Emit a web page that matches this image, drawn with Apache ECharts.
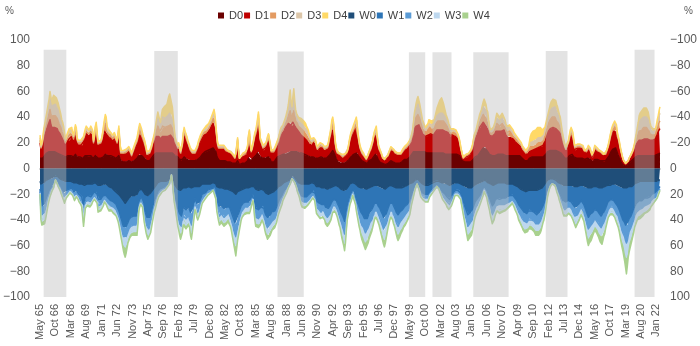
<!DOCTYPE html>
<html><head><meta charset="utf-8">
<script src="https://cdn.jsdelivr.net/npm/echarts@6/dist/echarts.min.js"></script>
<style>html,body{margin:0;padding:0;background:#fff}#c{width:700px;height:346px}</style>
</head><body><div id="c"></div>
<script>
// ---- categories (monthly, May 1965 .. May 2022) ----
const startYear = 1965, startMonthIndex = 4, monthCount = 685;
const monthNames = ['Jan','Feb','Mar','Apr','May','Jun','Jul','Aug','Sep','Oct','Nov','Dec'];
const categories = [];
for (let i = 0; i < monthCount; i++) {
  const k = startMonthIndex + i;
  categories.push(monthNames[k % 12] + ' ' + String((startYear + Math.floor(k / 12)) % 100).padStart(2, '0'));
}
const seriesNames = ['D0','D1','D2','D3','D4','W0','W1','W2','W3','W4'];
const yTicksLeft = [-100,-80,-60,-40,-20,0,20,40,60,80,100];

// ---- shaded periods (start month, end month, top value) ----
const bandStart = ['Sep 65','Nov 75','Mar 87','Apr 99','Jun 01','Mar 05','Nov 11','Jan 20'];
const bandEnd   = ['Oct 67','Jan 78','Aug 89','Oct 00','Mar 03','Jun 08','Nov 13','Nov 21'];
const bandTop   = [92.5, 91.5, 91, 90.5, 90.5, 90.5, 91.5, 92.5];

// ---- drought categories (% area) ----
const D0 = [
8,7,7,8,9,10,11,12,12,13,13,14,13,13,13,13,13,
13,12,12,12,11,11,11,10,10,10,10,9,9,10,10,10,10,
10,10,9,9,10,11,10,9,9,9,9,8,8,8,9,9,10,
10,10,10,9,9,10,10,9,8,9,10,10,9,8,8,8,8,
8,9,9,10,11,11,10,10,10,9,10,9,9,9,9,9,8,
8,9,10,8,6,5,5,5,5,5,5,6,6,6,6,5,5,
5,6,6,7,7,8,9,10,11,10,10,9,9,8,8,7,6,
6,6,6,7,8,9,10,10,11,12,12,12,12,12,12,12,12,
12,12,12,12,12,12,12,12,12,12,12,11,11,10,10,9,9,
8,7,6,6,7,8,9,8,8,7,7,7,6,6,6,6,6,
6,6,6,7,7,8,8,9,10,11,12,12,13,13,13,14,14,
14,15,15,16,16,16,15,13,10,8,7,6,6,6,6,6,6,
6,5,5,5,5,5,5,5,4,4,4,3,4,5,6,5,3,
3,4,4,4,4,4,5,5,6,8,9,7,6,7,8,8,9,
10,11,12,13,11,9,9,9,8,8,8,8,9,9,9,9,7,
5,5,5,5,6,7,8,9,9,10,10,10,10,11,11,11,11,
12,12,12,13,13,13,13,13,13,13,13,13,13,12,12,12,12,
12,11,11,11,10,10,10,10,9,9,9,9,9,9,9,8,8,
8,8,8,9,9,9,8,8,8,8,8,8,9,10,11,12,13,
14,13,11,9,7,6,5,5,5,4,4,4,4,4,5,5,5,
6,7,8,9,10,10,11,11,11,12,12,10,9,8,7,6,6,
5,5,4,4,4,5,6,6,7,7,8,9,10,11,11,9,7,
6,5,5,4,4,3,3,3,3,4,4,5,5,6,6,5,5,
5,5,4,4,4,4,4,5,5,6,6,7,7,7,7,8,8,
9,10,11,12,13,13,13,13,13,13,13,13,13,13,13,13,13,
12,12,12,12,12,12,12,12,12,12,12,12,12,12,12,12,12,
12,12,12,12,12,11,11,11,11,11,11,11,11,11,11,11,11,
11,11,11,10,10,8,7,6,5,5,5,5,5,5,5,5,5,
5,6,7,8,9,9,10,10,11,12,13,14,15,16,17,17,15,
14,13,12,11,10,10,10,10,10,10,11,11,11,11,11,11,11,
11,11,11,11,10,10,10,10,10,10,10,10,10,10,10,10,10,
10,10,10,9,9,8,7,7,6,6,6,6,7,8,9,9,9,
9,9,9,9,9,9,9,9,9,9,9,9,10,10,11,12,13,
13,14,14,14,14,14,14,14,14,14,14,13,13,13,12,11,10,
9,8,8,7,8,9,10,10,11,11,10,9,8,8,8,8,8,
8,8,8,8,8,7,7,7,7,8,8,8,7,6,6,5,6,
7,7,7,7,6,6,6,6,6,6,5,5,6,7,8,9,10,
11,13,14,15,16,16,16,14,12,10,9,7,5,4,3,3,3,
2,2,3,3,4,5,5,6,7,8,8,9,9,10,10,10,10,
10,10,10,10,10,10,10,10,10,10,10,10,10,10,10,10,10,
10,11,11,12,12];
const D1 = [
12,8,9,11,14,16,17,18,20,21,23,24,21,19,20,20,19,
19,19,19,17,17,16,15,14,13,11,10,9,10,11,12,13,12,
14,15,14,12,14,15,15,11,9,9,9,10,11,10,12,14,15,
17,17,16,16,17,17,18,16,11,13,18,20,14,10,9,10,11,
12,14,17,19,19,18,16,15,14,15,14,14,12,13,14,13,12,
11,14,17,11,5,5,6,6,6,6,6,6,6,7,6,6,4,
6,7,8,9,10,11,13,14,15,15,14,13,11,10,9,6,4,
3,4,5,5,6,8,9,11,12,13,14,14,13,12,11,12,13,
13,13,13,13,13,13,14,14,14,13,12,12,11,9,8,7,6,
8,7,5,5,10,15,17,16,14,14,11,10,9,7,6,5,5,
5,5,6,7,8,10,11,12,12,13,13,14,13,14,14,14,15,
16,16,18,18,19,20,19,15,12,9,8,9,9,9,9,9,9,
8,8,7,7,7,6,6,6,6,5,4,4,6,10,14,7,4,
4,4,5,6,6,6,6,6,9,14,16,10,6,7,9,12,14,
15,17,20,23,17,11,9,8,7,6,7,8,9,11,13,14,10,
7,7,7,7,7,8,8,8,10,12,14,16,17,17,18,20,21,
21,22,23,23,23,21,20,23,23,22,19,18,17,17,16,15,14,
13,14,13,13,13,12,12,11,10,10,9,9,10,11,12,10,8,
6,6,7,7,8,8,8,7,6,6,7,7,7,10,12,14,17,
17,15,11,7,6,5,6,5,5,5,5,4,4,5,5,5,6,
8,11,13,14,15,16,17,19,20,20,20,12,9,7,6,5,5,
5,3,3,2,3,4,5,6,7,8,10,13,14,15,16,13,10,
8,8,6,5,3,4,3,4,4,4,5,6,7,8,9,8,8,
7,6,7,6,6,5,5,5,6,6,7,7,7,8,8,8,9,
9,9,11,12,15,18,19,20,21,21,21,19,18,16,14,14,13,
13,13,13,14,15,15,15,14,14,14,15,16,17,18,18,18,18,
18,18,18,18,18,18,18,18,17,16,15,14,14,15,15,14,14,
14,13,12,11,9,7,5,3,2,2,3,4,4,4,5,5,6,
8,9,11,13,14,15,16,18,19,20,19,20,20,20,19,18,18,
18,19,17,15,15,15,15,16,16,17,18,19,19,18,17,17,18,
19,19,19,17,16,15,14,14,15,14,14,14,13,12,11,11,10,
9,8,8,8,7,6,6,6,6,5,5,5,5,5,5,5,5,
5,6,6,6,7,7,8,8,8,8,8,9,9,11,12,13,14,
16,16,17,18,18,18,18,18,17,16,16,16,15,14,13,11,10,
8,7,6,6,7,9,11,14,14,15,12,9,7,6,7,8,8,
8,8,7,7,7,6,5,5,5,5,7,7,6,5,3,3,6,
8,8,7,6,6,6,6,5,5,4,4,4,4,5,5,7,8,
11,11,13,13,13,14,14,14,11,11,9,8,7,5,4,2,1,
1,1,1,2,3,3,4,4,5,6,8,9,10,10,11,12,12,
12,12,13,13,13,13,13,13,13,12,12,12,12,12,12,12,13,
15,16,17,18,19];
const D2 = [
2,1,2,2,3,3,4,5,5,6,7,8,8,7,8,9,9,
9,9,8,8,7,7,6,5,5,5,3,2,2,2,3,3,3,
3,3,2,2,2,3,3,2,2,1,2,2,2,2,2,2,2,
2,3,2,2,2,2,2,2,1,2,2,2,2,1,1,1,1,
2,2,3,4,5,4,3,2,2,2,2,2,2,2,2,2,2,
1,2,2,1,1,1,1,1,2,1,2,2,2,2,2,1,1,
1,1,2,2,2,2,2,3,4,3,3,2,2,2,2,2,1,
1,1,1,1,2,2,2,2,3,4,5,7,6,5,5,7,8,
7,7,7,7,8,8,8,8,8,8,7,6,4,2,2,2,1,
2,1,1,1,1,2,2,2,2,2,2,1,1,1,1,1,1,
1,1,1,1,2,2,2,2,2,2,2,2,2,2,2,2,2,
2,3,3,3,4,4,3,2,2,1,1,1,1,1,1,1,1,
1,1,1,1,1,1,1,1,1,1,1,1,1,1,2,1,1,
1,1,1,1,1,1,1,1,1,2,2,1,1,1,1,2,2,
2,2,3,3,2,2,2,1,1,1,1,2,2,2,2,2,1,
1,1,1,1,1,1,2,2,2,2,2,2,2,2,2,3,3,
4,5,6,7,9,7,6,7,9,7,5,5,5,4,5,5,5,
5,5,5,5,5,4,4,4,3,2,2,2,2,2,2,2,1,
1,1,1,2,2,2,1,1,1,1,1,1,2,2,2,2,3,
4,3,2,2,1,1,1,1,1,1,1,1,1,1,1,1,1,
1,1,2,2,2,2,2,2,3,3,3,2,2,1,1,1,1,
1,1,1,1,1,1,1,1,1,1,2,2,2,2,2,2,1,
1,1,1,1,1,1,1,1,1,1,1,1,1,1,1,1,1,
1,1,1,1,1,1,1,1,1,1,1,1,1,1,2,2,2,
2,2,2,2,3,5,6,7,7,8,8,7,6,5,4,4,3,
3,3,3,4,4,5,4,4,4,4,4,5,6,6,7,7,7,
7,7,7,7,6,6,5,4,4,3,3,2,2,2,2,2,2,
2,2,2,2,1,1,1,1,1,1,1,1,1,1,1,1,1,
1,1,2,2,2,2,3,3,4,4,4,5,5,6,7,7,6,
5,5,4,3,2,2,2,2,3,4,4,5,5,5,5,4,5,
5,5,5,4,4,3,3,4,4,4,3,3,3,2,2,2,2,
2,2,2,2,2,2,2,1,1,1,1,1,2,2,3,3,3,
3,3,3,3,3,3,3,3,3,3,3,3,3,4,5,5,5,
6,6,7,7,8,8,8,8,8,7,7,6,5,5,4,3,2,
2,2,1,1,1,2,2,2,3,3,2,2,1,1,1,1,2,
2,1,1,1,1,1,1,1,1,1,1,1,1,1,1,1,1,
1,1,1,1,1,1,1,1,1,1,1,1,1,1,1,1,2,
2,2,2,2,2,3,3,2,2,2,2,1,1,1,1,1,1,
1,1,1,1,1,1,1,1,1,1,2,2,4,5,6,7,8,
8,8,8,9,9,9,9,8,8,7,5,4,4,4,3,3,3,
4,4,5,6,6];
const D3 = [
2,1,1,2,2,3,3,4,5,6,6,8,8,7,8,8,8,
9,8,8,8,7,6,6,5,4,4,3,2,2,2,2,3,3,
2,2,2,2,2,3,2,1,1,1,1,1,1,1,1,2,2,
2,2,2,2,2,2,2,2,1,1,2,2,2,1,1,1,1,
1,2,2,3,4,4,2,2,2,2,2,2,2,2,2,2,1,
1,2,2,1,1,1,1,1,1,1,1,1,1,1,1,1,1,
1,1,1,1,2,2,2,3,3,3,2,2,2,2,2,1,1,
1,1,1,1,1,1,2,2,3,4,5,6,6,5,4,6,7,
7,7,7,7,7,8,8,9,9,9,7,6,3,2,1,1,1,
1,1,1,1,1,2,2,2,2,1,1,1,1,1,1,1,1,
1,1,1,1,1,1,2,2,2,2,2,2,2,2,2,2,2,
2,2,2,3,3,3,3,2,1,1,1,1,1,1,1,1,1,
1,1,1,1,1,1,1,1,1,1,1,1,1,1,1,1,0,
1,1,1,1,1,1,1,1,1,1,2,1,1,1,1,1,2,
2,2,2,3,2,1,1,1,1,1,1,1,1,2,2,2,1,
1,1,1,1,1,1,1,1,2,2,2,2,2,2,2,2,3,
3,4,5,7,9,6,5,7,9,6,5,4,4,4,4,4,4,
4,4,4,4,4,4,3,3,3,2,2,1,1,1,1,1,1,
1,1,1,1,1,1,1,1,1,1,1,1,1,1,2,2,3,
3,2,2,1,1,1,1,1,1,1,1,1,1,1,1,1,1,
1,1,1,2,2,2,2,2,2,3,3,2,1,1,1,1,1,
1,1,1,1,1,1,1,1,1,1,1,1,2,2,2,1,1,
1,1,1,1,1,0,0,0,1,1,1,1,1,1,1,1,1,
1,1,1,1,1,1,1,1,1,1,1,1,1,1,1,1,1,
1,2,2,2,3,4,5,6,7,8,7,6,5,4,4,3,3,
2,2,3,3,4,4,4,4,3,3,4,4,4,5,5,5,6,
6,6,6,5,5,5,4,4,3,3,2,2,2,2,2,2,2,
2,2,1,1,1,1,1,1,1,1,1,1,1,1,1,1,1,
1,1,1,2,2,2,2,3,3,3,4,4,5,6,6,7,6,
5,4,3,2,2,2,2,2,2,3,4,4,5,4,4,4,4,
4,4,4,3,3,3,3,3,3,3,3,3,2,2,2,2,2,
2,2,1,2,1,1,1,1,1,1,1,1,2,2,3,3,4,
4,4,4,4,4,4,4,4,4,4,4,4,4,4,4,4,5,
5,6,7,7,7,8,8,8,8,7,6,6,5,4,3,3,2,
2,1,1,1,1,1,2,2,2,2,2,1,1,1,1,1,1,
1,1,1,1,1,1,1,1,1,1,1,1,1,1,1,1,1,
1,1,1,1,1,1,1,1,1,1,1,1,1,1,1,1,1,
1,2,2,2,2,2,3,2,2,1,1,1,1,1,0,0,0,
0,0,0,0,0,0,1,1,1,1,1,2,3,4,5,7,7,
8,8,8,8,9,8,8,8,7,6,5,4,3,3,3,3,3,
3,4,4,5,6];
const D4 = [
2,1,1,1,2,2,3,3,4,4,5,6,6,6,6,7,7,
7,7,7,6,6,5,4,4,4,3,2,1,1,2,2,2,2,
2,2,1,1,2,2,2,1,1,1,1,1,1,1,1,1,2,
2,2,2,1,1,2,2,1,1,1,1,2,1,1,1,1,1,
1,1,2,2,3,3,2,2,2,1,2,1,1,1,1,1,1,
1,1,2,1,1,1,1,1,1,1,1,1,1,1,1,1,1,
1,1,1,1,1,1,2,2,2,2,2,2,1,1,1,1,1,
1,1,1,1,1,1,1,2,2,3,4,5,4,4,4,5,6,
8,9,10,10,10,12,14,15,16,15,10,5,3,2,1,1,1,
1,1,1,1,1,1,2,1,1,1,1,1,1,1,1,1,1,
1,1,1,1,1,1,1,1,1,1,1,1,2,2,2,2,2,
2,2,2,2,2,3,2,2,1,1,1,1,1,1,1,1,1,
1,1,1,0,0,0,0,0,0,0,0,0,0,1,1,0,0,
0,0,0,0,0,0,0,1,1,1,1,1,0,1,1,1,1,
1,2,2,2,2,1,1,1,1,1,1,1,1,1,1,1,1,
0,0,1,1,1,1,1,1,1,1,2,2,2,2,2,2,2,
3,3,4,6,7,5,4,6,8,5,4,3,3,3,3,3,4,
4,4,4,3,3,3,3,2,2,2,1,1,1,1,1,1,1,
1,1,1,1,1,1,1,1,1,1,1,1,1,1,1,2,2,
2,2,1,1,1,1,0,0,0,0,0,0,0,0,0,0,0,
1,1,1,1,1,2,2,2,2,2,2,1,1,1,1,1,0,
0,0,0,0,0,0,0,1,1,1,1,1,1,1,2,1,1,
1,0,0,0,0,0,0,0,0,0,0,0,1,1,1,1,0,
0,0,0,0,0,0,0,0,0,1,1,1,1,1,1,1,1,
1,1,1,2,2,3,4,5,6,6,6,5,4,4,3,2,2,
2,2,2,2,3,3,3,3,3,3,3,4,5,6,7,9,10,
11,12,11,9,7,5,4,3,3,2,2,2,1,1,1,1,1,
1,1,1,1,1,1,0,0,0,0,0,0,0,0,0,0,1,
1,1,1,1,1,2,2,2,2,3,3,3,4,4,5,6,5,
4,3,2,2,1,2,2,2,2,2,3,4,4,4,3,3,3,
4,4,3,3,2,2,2,2,2,2,2,2,2,2,2,1,1,
1,1,1,1,1,1,1,1,1,1,1,1,1,4,5,7,7,
8,8,8,8,8,9,9,9,8,7,6,5,4,3,3,4,4,
4,5,5,6,6,6,7,7,6,6,5,4,4,4,3,2,2,
1,1,1,1,1,1,1,2,2,2,2,1,1,1,1,1,1,
1,1,1,1,1,1,0,0,1,1,1,1,1,0,0,0,0,
1,1,1,1,1,0,0,0,0,0,0,0,0,0,1,1,1,
1,1,1,2,2,2,2,2,1,1,1,1,0,0,0,0,0,
0,0,0,0,0,0,0,0,0,1,1,2,2,3,4,5,6,
6,7,7,7,7,7,7,7,6,5,4,3,3,2,2,2,2,
2,3,4,4,5];

// ---- wet categories (% area, plotted below zero) ----
const W0 = [
-10,-12,-12,-12,-11,-10,-10,-9,-9,-8,-8,-8,-8,-7,-7,-7,-6,
-5,-6,-6,-7,-7,-8,-8,-9,-9,-10,-10,-10,-10,-10,-10,-10,-10,
-10,-10,-10,-11,-11,-11,-11,-11,-11,-12,-12,-12,-12,-12,-13,-13,-12,
-12,-12,-12,-12,-12,-12,-12,-12,-11,-11,-11,-11,-12,-13,-13,-13,-13,
-13,-13,-12,-12,-12,-12,-13,-13,-14,-14,-15,-15,-16,-16,-17,-17,-18,
-19,-19,-20,-21,-22,-23,-24,-25,-26,-27,-26,-25,-24,-23,-22,-22,-21,
-21,-21,-21,-21,-21,-20,-19,-17,-16,-16,-16,-17,-18,-19,-20,-20,-21,
-21,-21,-20,-19,-18,-17,-16,-15,-14,-13,-12,-11,-11,-10,-10,-10,-10,
-10,-10,-10,-10,-9,-9,-9,-8,-7,-4,-7,-10,-12,-13,-14,-15,-16,
-16,-17,-17,-17,-16,-15,-15,-15,-15,-15,-14,-14,-14,-15,-15,-15,-14,
-14,-13,-13,-14,-14,-14,-14,-13,-13,-12,-12,-12,-12,-12,-12,-12,-12,
-12,-12,-11,-11,-11,-11,-11,-12,-14,-14,-15,-15,-15,-15,-15,-15,-16,
-16,-16,-16,-16,-16,-16,-17,-17,-18,-18,-19,-19,-20,-19,-18,-18,-17,
-17,-16,-16,-16,-15,-15,-15,-15,-15,-15,-15,-14,-14,-13,-13,-14,-15,
-16,-17,-17,-17,-17,-16,-16,-16,-16,-17,-18,-19,-19,-20,-20,-20,-19,
-19,-18,-18,-18,-18,-17,-16,-15,-14,-14,-13,-13,-12,-12,-11,-11,-11,
-10,-10,-9,-9,-8,-7,-6,-5,-6,-7,-8,-9,-10,-11,-11,-12,-12,
-12,-12,-12,-12,-12,-12,-12,-12,-12,-11,-11,-11,-11,-11,-12,-13,-14,
-14,-14,-14,-14,-15,-15,-15,-15,-15,-16,-16,-16,-16,-16,-15,-15,-14,
-14,-13,-13,-13,-13,-14,-14,-15,-15,-16,-16,-17,-17,-18,-17,-16,-15,
-14,-13,-12,-12,-11,-11,-11,-11,-12,-13,-13,-14,-14,-14,-15,-15,-15,
-15,-16,-16,-16,-16,-15,-15,-15,-15,-14,-14,-14,-13,-13,-13,-13,-14,
-14,-14,-15,-15,-15,-16,-16,-16,-15,-15,-14,-14,-13,-13,-13,-13,-14,
-14,-14,-15,-15,-15,-15,-15,-15,-15,-14,-14,-14,-14,-14,-13,-13,-13,
-12,-12,-11,-11,-10,-10,-9,-9,-8,-8,-9,-10,-11,-11,-12,-12,-12,
-13,-13,-13,-13,-12,-12,-12,-11,-11,-11,-10,-10,-10,-9,-9,-10,-10,
-10,-11,-11,-11,-11,-12,-12,-12,-12,-12,-13,-13,-12,-12,-12,-12,-11,
-11,-11,-11,-11,-11,-12,-12,-13,-13,-14,-14,-14,-15,-15,-15,-15,-15,
-15,-14,-14,-13,-13,-12,-12,-12,-11,-11,-11,-10,-10,-10,-9,-9,-9,
-10,-11,-11,-12,-12,-13,-13,-13,-12,-12,-12,-11,-11,-11,-11,-11,-11,
-11,-11,-11,-12,-12,-12,-12,-12,-12,-12,-12,-12,-12,-13,-13,-13,-14,
-14,-15,-15,-16,-16,-17,-17,-18,-18,-18,-18,-18,-17,-17,-17,-17,-17,
-17,-17,-17,-17,-17,-17,-16,-16,-16,-15,-15,-14,-13,-12,-11,-10,-9,
-9,-8,-8,-8,-8,-8,-8,-8,-9,-9,-10,-11,-11,-12,-12,-13,-13,
-13,-13,-13,-13,-13,-13,-13,-13,-13,-13,-14,-14,-14,-14,-14,-14,-14,
-13,-13,-13,-13,-13,-14,-14,-14,-15,-15,-15,-15,-15,-15,-15,-15,-14,
-14,-14,-14,-14,-14,-15,-15,-15,-15,-15,-14,-14,-14,-13,-13,-13,-13,
-13,-12,-12,-12,-12,-12,-12,-13,-13,-13,-14,-14,-14,-15,-15,-15,-15,
-15,-15,-15,-15,-14,-14,-14,-14,-13,-13,-12,-12,-11,-11,-10,-10,-10,
-10,-10,-10,-10,-10,-10,-10,-10,-10,-10,-10,-10,-10,-10,-10,-10,-10,
-10,-10,-9,-9,-9];
const W1 = [
-6,-15,-17,-17,-18,-17,-16,-14,-12,-11,-9,-8,-7,-6,-6,-5,-4,
-3,-3,-4,-4,-5,-5,-6,-7,-8,-8,-9,-8,-7,-7,-6,-6,-5,
-5,-5,-6,-7,-8,-7,-6,-6,-7,-8,-8,-9,-10,-10,-17,-13,-10,
-10,-9,-9,-9,-10,-10,-9,-8,-8,-7,-7,-7,-8,-11,-11,-11,-11,
-11,-10,-9,-8,-8,-9,-9,-10,-10,-10,-10,-10,-10,-10,-10,-10,-10,
-11,-12,-13,-14,-16,-17,-19,-20,-20,-19,-19,-19,-18,-17,-17,-16,-16,
-16,-16,-16,-16,-16,-17,-13,-9,-8,-7,-6,-7,-10,-12,-14,-16,-17,
-18,-18,-18,-16,-15,-13,-12,-10,-10,-9,-8,-7,-6,-6,-6,-5,-5,
-4,-4,-4,-4,-4,-3,-3,-3,-2,-1,-2,-5,-8,-9,-11,-13,-15,
-17,-18,-19,-20,-18,-15,-15,-16,-17,-17,-17,-16,-17,-19,-20,-18,-16,
-13,-10,-11,-13,-14,-13,-12,-11,-9,-8,-8,-7,-7,-6,-6,-5,-5,
-5,-4,-4,-4,-4,-4,-4,-7,-10,-12,-14,-15,-15,-14,-14,-15,-15,
-16,-15,-14,-13,-13,-14,-15,-16,-18,-19,-21,-23,-23,-22,-19,-18,-16,
-14,-13,-12,-11,-11,-11,-11,-11,-11,-11,-11,-10,-9,-8,-7,-10,-13,
-15,-15,-15,-15,-15,-15,-14,-13,-13,-14,-16,-17,-18,-18,-19,-18,-17,
-16,-16,-16,-15,-15,-15,-14,-13,-12,-11,-10,-9,-9,-7,-7,-6,-6,
-5,-4,-4,-3,-3,-2,-2,-2,-2,-3,-3,-4,-5,-5,-6,-7,-9,
-10,-10,-10,-10,-10,-10,-9,-9,-8,-8,-8,-7,-7,-6,-7,-9,-11,
-11,-12,-13,-13,-13,-13,-12,-12,-13,-14,-15,-15,-15,-14,-14,-13,-12,
-11,-11,-11,-11,-12,-13,-14,-15,-16,-18,-19,-20,-22,-23,-21,-17,-13,
-12,-10,-9,-8,-7,-6,-5,-6,-9,-11,-13,-14,-16,-18,-19,-20,-21,
-22,-23,-24,-24,-23,-22,-20,-19,-19,-18,-17,-15,-14,-13,-14,-14,-15,
-16,-17,-18,-19,-21,-22,-23,-21,-20,-18,-17,-15,-14,-13,-13,-14,-15,
-16,-18,-19,-20,-21,-20,-19,-19,-18,-18,-17,-16,-16,-15,-15,-14,-13,
-13,-11,-9,-8,-7,-5,-4,-3,-3,-3,-4,-5,-6,-7,-7,-7,-7,
-7,-8,-8,-7,-7,-6,-5,-5,-5,-4,-4,-4,-3,-3,-3,-4,-5,
-6,-6,-7,-8,-8,-8,-9,-10,-10,-11,-11,-10,-9,-8,-7,-6,-6,
-5,-5,-6,-6,-6,-7,-9,-10,-12,-14,-16,-18,-19,-21,-20,-20,-19,
-19,-18,-16,-15,-13,-13,-12,-11,-11,-10,-9,-8,-7,-6,-5,-5,-6,
-7,-9,-10,-11,-13,-14,-16,-15,-15,-13,-12,-12,-12,-12,-13,-13,-12,
-12,-12,-12,-11,-11,-11,-10,-10,-10,-9,-9,-8,-9,-9,-10,-11,-11,
-12,-13,-14,-14,-15,-15,-16,-16,-17,-17,-17,-16,-16,-15,-15,-16,-16,
-16,-17,-17,-18,-19,-19,-19,-18,-18,-17,-16,-15,-14,-13,-11,-9,-7,
-6,-5,-4,-3,-3,-3,-3,-3,-4,-5,-6,-6,-8,-8,-10,-10,-12,
-13,-13,-13,-13,-12,-12,-12,-12,-13,-13,-14,-15,-16,-17,-16,-15,-15,
-14,-13,-12,-12,-13,-14,-16,-18,-19,-21,-23,-22,-21,-21,-20,-19,-19,
-18,-18,-19,-19,-20,-20,-21,-22,-22,-21,-20,-19,-17,-16,-15,-13,-13,
-12,-12,-12,-13,-13,-14,-15,-15,-16,-17,-18,-20,-22,-23,-25,-26,-27,
-29,-30,-29,-26,-25,-24,-23,-21,-20,-19,-18,-17,-16,-15,-16,-15,-15,
-15,-15,-14,-14,-13,-13,-13,-13,-12,-12,-12,-11,-10,-10,-9,-9,-9,
-8,-7,-7,-6,-5];
const W2 = [
-2,-6,-7,-7,-7,-7,-7,-6,-5,-4,-4,-3,-3,-3,-2,-2,-1,
-1,-1,-1,-2,-2,-2,-3,-3,-3,-4,-4,-4,-3,-3,-3,-2,-2,
-2,-2,-3,-3,-3,-3,-3,-3,-3,-3,-4,-4,-4,-4,-7,-6,-4,
-4,-4,-4,-4,-4,-4,-4,-3,-3,-3,-3,-3,-4,-5,-5,-4,-4,
-4,-4,-4,-3,-3,-4,-4,-4,-4,-4,-4,-4,-4,-4,-4,-4,-4,
-4,-5,-5,-6,-7,-7,-8,-8,-8,-8,-8,-8,-7,-7,-7,-7,-7,
-7,-7,-7,-7,-7,-7,-6,-4,-3,-3,-3,-3,-4,-5,-6,-7,-7,
-7,-8,-7,-7,-6,-6,-5,-4,-4,-4,-3,-3,-3,-3,-2,-2,-2,
-2,-2,-2,-1,-1,-1,-1,-1,0,0,-1,-2,-3,-4,-5,-6,-7,
-7,-8,-8,-8,-7,-7,-6,-7,-7,-7,-7,-7,-7,-8,-9,-8,-7,
-5,-4,-5,-5,-6,-6,-5,-4,-4,-4,-3,-3,-3,-3,-2,-2,-2,
-2,-2,-2,-2,-1,-1,-2,-3,-4,-5,-6,-7,-6,-6,-6,-6,-7,
-7,-7,-6,-6,-5,-6,-6,-7,-7,-8,-9,-9,-10,-9,-8,-7,-7,
-6,-5,-5,-5,-5,-4,-4,-4,-4,-4,-4,-4,-4,-3,-3,-4,-6,
-7,-7,-7,-7,-7,-6,-6,-5,-5,-6,-7,-7,-7,-8,-8,-7,-7,
-7,-7,-7,-7,-6,-6,-6,-5,-5,-5,-4,-4,-4,-3,-3,-3,-2,
-2,-2,-1,-1,-1,-1,0,0,-1,-1,-1,-1,-2,-2,-3,-3,-4,
-4,-4,-4,-4,-4,-4,-4,-4,-4,-4,-3,-3,-3,-3,-3,-4,-5,
-5,-5,-5,-6,-6,-5,-5,-5,-6,-6,-6,-7,-6,-6,-6,-6,-5,
-4,-4,-4,-5,-5,-5,-6,-7,-7,-7,-8,-9,-9,-10,-9,-7,-6,
-5,-4,-4,-3,-3,-2,-2,-3,-4,-4,-5,-6,-7,-7,-8,-9,-9,
-9,-9,-10,-10,-10,-9,-9,-8,-8,-8,-7,-7,-6,-6,-6,-6,-6,
-7,-7,-8,-8,-9,-9,-9,-9,-8,-8,-7,-7,-6,-6,-6,-6,-7,
-7,-7,-8,-8,-9,-9,-8,-8,-8,-7,-7,-7,-7,-7,-6,-6,-6,
-5,-4,-4,-3,-3,-2,-2,-1,-1,-1,-2,-2,-3,-3,-3,-3,-3,
-3,-3,-3,-3,-3,-2,-2,-2,-2,-2,-2,-1,-1,-1,-1,-1,-2,
-2,-3,-3,-3,-4,-4,-4,-4,-4,-4,-4,-4,-4,-4,-3,-3,-2,
-2,-2,-2,-2,-3,-3,-4,-4,-5,-6,-7,-7,-8,-9,-9,-8,-8,
-8,-8,-7,-6,-6,-5,-5,-5,-4,-4,-4,-4,-3,-3,-2,-2,-2,
-3,-4,-4,-5,-6,-6,-7,-7,-6,-6,-5,-5,-5,-5,-5,-5,-5,
-5,-5,-5,-5,-5,-4,-4,-4,-4,-4,-4,-4,-4,-4,-4,-4,-5,
-5,-6,-6,-6,-6,-7,-7,-7,-7,-7,-7,-7,-7,-7,-7,-7,-7,
-7,-7,-7,-8,-8,-8,-8,-8,-7,-7,-7,-6,-6,-5,-5,-4,-3,
-2,-2,-1,-1,-1,-1,-1,-1,-1,-2,-2,-3,-3,-4,-4,-4,-5,
-5,-6,-6,-5,-5,-5,-5,-5,-5,-6,-6,-6,-7,-7,-7,-7,-6,
-6,-6,-5,-5,-5,-6,-7,-8,-8,-9,-9,-9,-9,-9,-8,-8,-8,
-7,-8,-8,-8,-8,-9,-9,-9,-9,-9,-8,-8,-7,-7,-6,-6,-5,
-5,-5,-5,-5,-6,-6,-6,-7,-7,-7,-8,-8,-9,-10,-10,-10,-11,
-12,-13,-12,-11,-10,-10,-9,-9,-9,-8,-7,-7,-7,-7,-7,-7,-7,
-6,-6,-6,-6,-6,-6,-5,-5,-5,-5,-5,-4,-4,-4,-4,-4,-4,
-4,-3,-3,-2,-2];
const W3 = [
-1,-4,-5,-5,-5,-5,-4,-4,-4,-3,-2,-2,-1,-1,-1,-1,-1,
0,0,-1,-1,-1,-1,-1,-1,-2,-2,-2,-2,-2,-1,-1,-1,-1,
-1,-1,-1,-1,-2,-2,-1,-1,-2,-2,-2,-2,-2,-3,-5,-4,-3,
-2,-2,-2,-2,-2,-2,-2,-2,-2,-2,-2,-2,-2,-3,-3,-3,-3,
-3,-3,-2,-2,-2,-2,-2,-2,-3,-3,-2,-2,-2,-3,-3,-3,-3,
-3,-3,-4,-4,-4,-5,-5,-6,-6,-7,-6,-6,-5,-5,-5,-5,-5,
-5,-5,-5,-5,-5,-5,-4,-2,-2,-1,-1,-2,-2,-4,-4,-4,-5,
-5,-5,-5,-5,-4,-4,-3,-3,-2,-2,-2,-2,-1,-1,-1,-1,-1,
-1,-1,-1,-1,-1,-1,0,0,0,0,0,-1,-2,-2,-3,-4,-4,
-5,-5,-6,-6,-5,-4,-4,-4,-5,-5,-5,-4,-5,-6,-6,-5,-4,
-4,-3,-3,-4,-4,-4,-3,-3,-2,-2,-2,-2,-1,-1,-1,-1,-1,
-1,-1,-1,-1,-1,-1,-1,-1,-3,-4,-4,-4,-4,-4,-4,-4,-4,
-4,-4,-4,-4,-4,-4,-4,-5,-5,-6,-6,-7,-7,-6,-6,-5,-5,
-4,-4,-3,-3,-3,-3,-3,-3,-3,-3,-3,-3,-2,-2,-1,-2,-4,
-4,-4,-4,-4,-4,-4,-4,-4,-4,-4,-4,-5,-5,-5,-5,-5,-5,
-5,-4,-4,-4,-4,-4,-4,-4,-3,-3,-3,-2,-2,-2,-2,-1,-1,
-1,-1,-1,-1,0,0,0,0,0,0,0,-1,-1,-1,-1,-2,-2,
-2,-2,-3,-3,-3,-2,-2,-2,-2,-2,-2,-2,-1,-1,-2,-2,-3,
-3,-4,-4,-4,-4,-4,-4,-4,-4,-4,-4,-4,-4,-4,-4,-4,-4,
-3,-3,-3,-3,-3,-4,-4,-4,-5,-5,-6,-6,-6,-7,-6,-5,-4,
-3,-3,-2,-2,-2,-1,-1,-1,-2,-3,-4,-4,-5,-5,-6,-6,-6,
-7,-7,-7,-7,-7,-6,-6,-6,-5,-5,-5,-4,-4,-4,-4,-4,-4,
-4,-5,-5,-6,-6,-6,-7,-6,-6,-5,-5,-4,-4,-4,-4,-4,-4,
-5,-5,-5,-6,-6,-6,-6,-5,-5,-5,-5,-5,-4,-4,-4,-4,-4,
-4,-3,-2,-2,-1,-1,-1,-1,0,-1,-1,-1,-1,-1,-1,-2,-2,
-2,-2,-2,-2,-1,-1,-1,-1,-1,-1,-1,-1,-1,-1,-1,-1,-1,
-1,-1,-2,-2,-2,-2,-2,-2,-3,-3,-3,-2,-2,-2,-2,-1,-1,
-1,-1,-1,-1,-1,-1,-2,-3,-4,-4,-4,-5,-6,-6,-6,-6,-6,
-6,-5,-5,-4,-4,-4,-3,-3,-3,-2,-2,-2,-2,-1,-1,-1,-1,
-2,-2,-3,-3,-4,-4,-4,-4,-4,-4,-4,-3,-3,-4,-4,-4,-4,
-4,-3,-3,-3,-3,-3,-3,-2,-2,-2,-2,-2,-2,-2,-3,-3,-3,
-4,-4,-4,-4,-4,-4,-5,-5,-5,-5,-5,-5,-4,-4,-4,-4,-5,
-5,-5,-5,-5,-5,-5,-5,-5,-5,-5,-4,-4,-4,-4,-3,-2,-2,
-1,-1,-1,-1,0,0,0,-1,-1,-1,-1,-1,-2,-2,-2,-3,-3,
-4,-4,-4,-4,-4,-3,-3,-4,-4,-4,-4,-4,-4,-5,-5,-4,-4,
-4,-4,-4,-3,-4,-4,-5,-5,-6,-6,-7,-6,-6,-6,-6,-6,-5,
-5,-5,-5,-6,-6,-6,-6,-6,-7,-6,-6,-6,-5,-5,-4,-4,-4,
-4,-4,-4,-4,-4,-4,-4,-4,-5,-5,-5,-6,-6,-7,-7,-8,-9,
-10,-11,-10,-8,-8,-7,-7,-6,-6,-6,-5,-5,-5,-4,-4,-4,-4,
-4,-4,-4,-4,-4,-4,-4,-4,-4,-4,-3,-3,-3,-2,-2,-2,-2,
-2,-2,-1,-1,-1];
const W4 = [
-1,-3,-3,-4,-4,-4,-3,-3,-2,-2,-2,-1,-1,-1,-1,0,0,
0,0,0,0,0,-1,-1,-1,-1,-1,-2,-1,-1,-1,-1,-1,-1,
0,-1,-1,-1,-1,-1,-1,-1,-1,-1,-1,-1,-2,-2,-3,-2,-2,
-2,-2,-1,-2,-2,-2,-1,-1,-1,-1,-1,-1,-1,-2,-2,-2,-2,
-2,-2,-2,-1,-1,-1,-2,-2,-2,-2,-2,-2,-2,-2,-2,-2,-2,
-2,-2,-2,-3,-3,-4,-4,-5,-7,-8,-7,-4,-4,-4,-3,-3,-3,
-3,-3,-3,-3,-3,-3,-2,-1,-1,-1,-1,-1,-2,-2,-2,-3,-3,
-4,-4,-4,-3,-3,-2,-2,-2,-2,-1,-1,-1,-1,-1,-1,-1,0,
0,0,0,0,0,0,0,0,0,0,0,0,-1,-2,-2,-2,-3,
-3,-4,-5,-5,-4,-3,-3,-3,-3,-4,-3,-3,-3,-4,-5,-4,-3,
-2,-2,-2,-2,-2,-2,-2,-2,-2,-1,-1,-1,-1,-1,-1,-1,0,
0,0,0,0,0,0,0,-1,-2,-2,-2,-3,-3,-3,-3,-3,-3,
-3,-3,-3,-2,-2,-2,-3,-3,-4,-5,-5,-6,-8,-6,-5,-4,-3,
-3,-2,-2,-2,-2,-2,-2,-2,-2,-2,-2,-2,-1,-1,-1,-2,-2,
-3,-3,-3,-3,-3,-3,-2,-2,-2,-3,-3,-3,-4,-4,-4,-4,-4,
-3,-3,-3,-3,-3,-3,-2,-2,-2,-2,-2,-2,-1,-1,-1,-1,-1,
-1,0,0,0,0,0,0,0,0,0,0,0,0,-1,-1,-1,-1,
-2,-2,-2,-2,-2,-2,-2,-1,-1,-1,-1,-1,-1,-1,-1,-2,-2,
-2,-2,-2,-2,-2,-2,-2,-2,-2,-3,-3,-3,-3,-3,-3,-2,-2,
-2,-2,-2,-2,-2,-2,-3,-3,-3,-4,-5,-5,-6,-6,-5,-3,-2,
-2,-2,-1,-1,-1,-1,-1,-1,-1,-2,-2,-3,-3,-4,-4,-5,-6,
-6,-6,-6,-7,-6,-6,-5,-5,-4,-4,-3,-3,-3,-2,-2,-3,-3,
-3,-4,-4,-5,-5,-6,-6,-6,-5,-4,-3,-3,-3,-2,-2,-3,-3,
-3,-4,-4,-5,-5,-5,-5,-4,-4,-4,-3,-3,-3,-3,-3,-3,-2,
-2,-2,-2,-1,-1,-1,0,0,0,0,0,-1,-1,-1,-1,-1,-1,
-1,-1,-1,-1,-1,-1,-1,-1,0,0,0,0,0,0,0,0,0,
-1,-1,-1,-1,-1,-1,-1,-2,-2,-2,-2,-2,-2,-1,-1,-1,-1,
-1,-1,-1,-1,-1,-1,-1,-2,-2,-2,-3,-4,-4,-5,-5,-5,-5,
-4,-4,-3,-3,-2,-2,-2,-2,-2,-2,-1,-1,-1,-1,-1,0,-1,
-1,-1,-2,-2,-2,-3,-3,-3,-3,-2,-2,-2,-2,-2,-2,-2,-2,
-2,-2,-2,-2,-2,-2,-2,-2,-2,-2,-1,-1,-1,-2,-2,-2,-2,
-2,-2,-2,-3,-3,-3,-3,-3,-3,-4,-4,-3,-3,-3,-3,-3,-3,
-3,-3,-4,-4,-4,-4,-4,-4,-4,-4,-3,-3,-3,-2,-2,-2,-1,
-1,0,0,0,0,0,0,0,0,-1,-1,-1,-1,-1,-2,-2,-2,
-2,-2,-2,-2,-2,-2,-2,-2,-2,-2,-2,-3,-3,-3,-3,-3,-3,
-3,-2,-2,-2,-2,-3,-3,-4,-5,-6,-6,-6,-6,-5,-5,-4,-4,
-4,-4,-4,-4,-5,-5,-6,-6,-6,-5,-5,-4,-4,-3,-3,-2,-2,
-2,-2,-2,-2,-2,-2,-3,-3,-3,-4,-4,-5,-6,-6,-7,-9,-10,
-11,-13,-10,-9,-8,-7,-6,-6,-5,-4,-4,-3,-3,-3,-3,-3,-3,
-3,-3,-3,-2,-2,-2,-2,-2,-2,-2,-2,-2,-2,-2,-2,-1,-1,
-1,-1,-1,-1,0];

const seriesData = [D0, D1, D2, D3, D4, W0, W1, W2, W3, W4];
const seriesColors = ['#6b0000','#c00000','#e39b62','#dcc6a9','#ffd966','#1f4e79','#2e75b6','#5b9bd5','#bdd7ee','#a9d18e'];

const FONT = "'Liberation Sans', Arial, sans-serif";
const minusFmt = v => String(v).replace('-', '\u2212');

const bandAreas = bandStart.map((s, i) => [
  { xAxis: s, yAxis: -100 },
  { xAxis: bandEnd[i], yAxis: bandTop[i] }
]);

const series = seriesNames.map((name, i) => {
  const s = {
    name, type: 'line', stack: i < 5 ? 'D' : 'W',
    data: seriesData[i], xAxisIndex: 0, yAxisIndex: 0,
    symbol: 'none', showSymbol: false, smooth: false,
    lineStyle: { width: 1.5, color: seriesColors[i], join: 'round' }, itemStyle: { color: seriesColors[i] },
    areaStyle: { color: seriesColors[i], opacity: 1 },
    emphasis: { disabled: true }, silent: true
  };
  if (i === seriesNames.length - 1) {
    s.markArea = {
      silent: true, z: 10,
      itemStyle: { color: 'rgba(188,188,188,0.42)', borderWidth: 0 },
      label: { show: false },
      data: bandAreas
    };
  }
  return s;
});

const chart = echarts.init(document.getElementById('c'), null, { renderer: 'canvas' });
chart.setOption({
  animation: false,
  backgroundColor: '#ffffff',
  textStyle: { fontFamily: FONT },
  graphic: [
    { type: 'text', left: 5, top: 6, style: { text: '%', fontSize: 10, fill: '#595959', fontFamily: FONT } },
    { type: 'text', left: 684, top: 6, style: { text: '%', fontSize: 10, fill: '#595959', fontFamily: FONT } }
  ],
  legend: {
    data: seriesNames, top: 10, left: 218, padding: 0, icon: 'rect',
    itemWidth: 6, itemHeight: 6, itemGap: 1,
    textStyle: { fontSize: 11, color: '#404040', fontFamily: FONT },
    selectedMode: false
  },
  grid: { left: 37, right: 38, top: 40, bottom: 49, containLabel: false },
  xAxis: [
    {
      type: 'category', data: categories, boundaryGap: false, position: 'bottom',
      axisLine: { show: false, onZero: false }, axisTick: { show: false },
      axisLabel: { interval: 16, rotate: 90, fontSize: 11, color: '#595959', margin: 7, fontFamily: FONT },
      splitLine: { show: false }
    },
    {
      type: 'category', data: categories, boundaryGap: false, position: 'bottom',
      axisLine: { show: true, onZero: true, lineStyle: { color: '#d0d0d0', width: 2 } },
      axisTick: { show: true, interval: 16, length: 3, lineStyle: { color: '#e8e8e8', width: 1 } },
      axisLabel: { show: false }, splitLine: { show: false }
    }
  ],
  yAxis: [
    {
      type: 'value', min: yTicksLeft[0], max: yTicksLeft[yTicksLeft.length - 1], interval: 20, position: 'left',
      axisLine: { show: false }, axisTick: { show: false }, splitLine: { show: false },
      axisLabel: { fontSize: 12, color: '#595959', margin: 10, formatter: minusFmt, fontFamily: FONT }
    },
    {
      type: 'value', min: yTicksLeft[0], max: yTicksLeft[yTicksLeft.length - 1], interval: 20, position: 'right', inverse: true,
      axisLine: { show: false }, axisTick: { show: false }, splitLine: { show: false },
      axisLabel: { fontSize: 12, color: '#595959', margin: 10, formatter: minusFmt, fontFamily: FONT }
    }
  ],
  series
});
</script>
</body></html>
